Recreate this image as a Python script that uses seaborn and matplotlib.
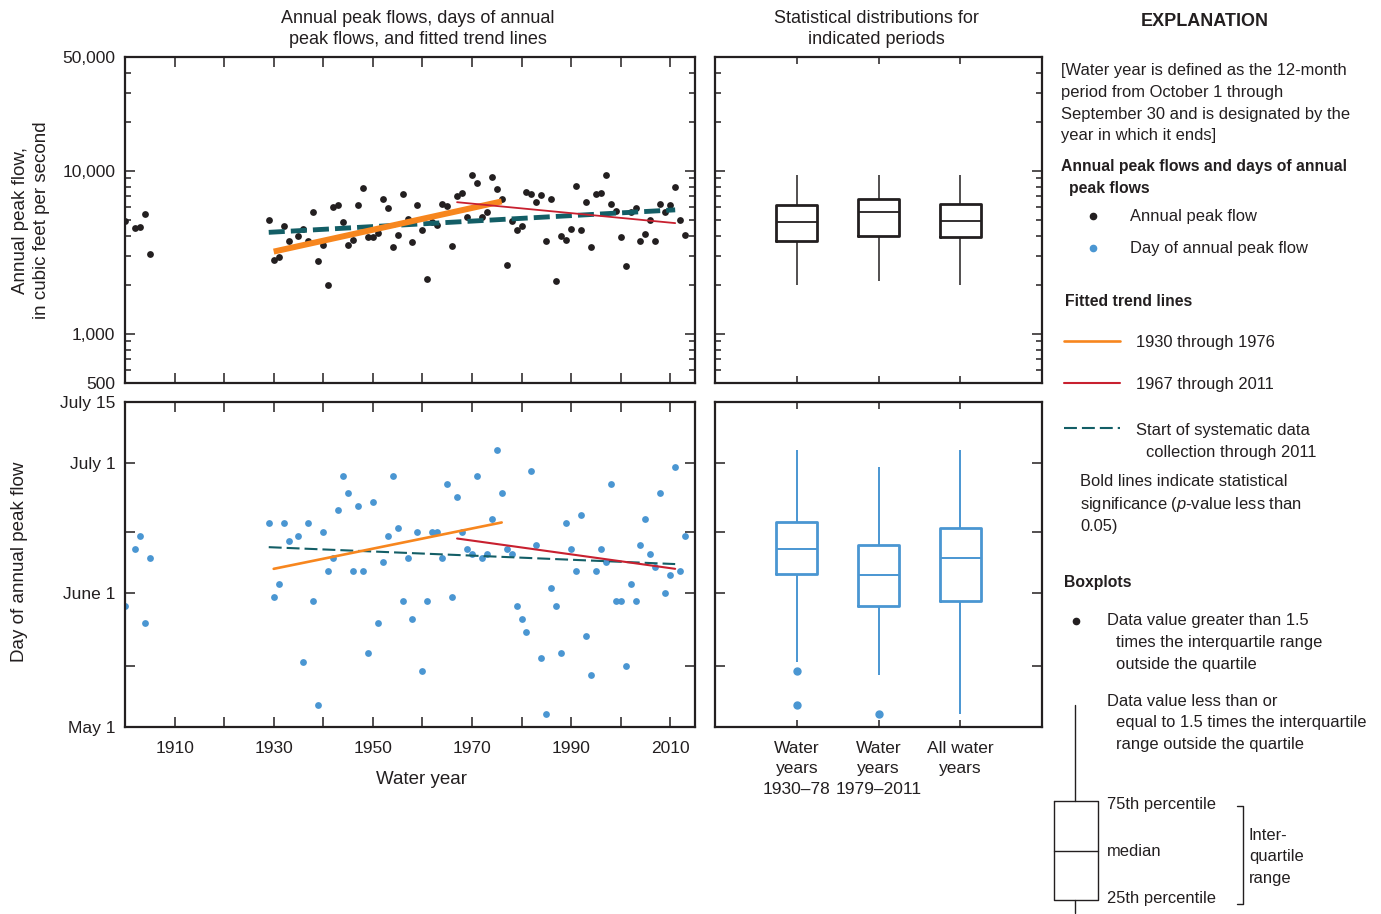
import numpy as np
import pandas as pd
import matplotlib
matplotlib.use("Agg")
import matplotlib.pyplot as plt
import matplotlib.ticker as mticker
import seaborn as sns

# water years with a recorded annual peak
years = [1900, 1902, 1903, 1904, 1905, 1929, 1930, 1931, 1932, 1933,
         1935, 1936, 1937, 1938, 1939, 1940, 1941, 1942, 1943, 1944,
         1945, 1946, 1947, 1948, 1949, 1950, 1951, 1952, 1953, 1954,
         1955, 1956, 1957, 1958, 1959, 1960, 1961, 1962, 1963, 1964,
         1965, 1966, 1967, 1968, 1969, 1970, 1971, 1972, 1973, 1974,
         1975, 1976, 1977, 1978, 1979, 1980, 1981, 1982, 1983, 1984,
         1985, 1986, 1987, 1988, 1989, 1990, 1991, 1992, 1993, 1994,
         1995, 1996, 1997, 1998, 1999, 2000, 2001, 2002, 2003, 2004,
         2005, 2006, 2007, 2008, 2009, 2010, 2011, 2012, 2013]

# annual peak flow, cubic feet per second
peak_flow = [4900, 4460, 4520, 5430, 3100, 4990, 2830, 2985, 4600, 3710,
             4000, 4385, 3695, 5610, 2800, 3505, 2000, 5970, 6190, 4830,
             3520, 3750, 6180, 7890, 3915, 3955, 4145, 6680, 5935, 3395,
             4055, 7220, 5045, 3645, 6140, 4335, 2165, 4830, 4650, 6310,
             6105, 3475, 6970, 7300, 5230, 9410, 8490, 5185, 5565, 9190,
             7800, 6740, 2635, 4955, 4320, 4575, 7410, 7200, 6435, 7070,
             3725, 6740, 2110, 4000, 3765, 4380, 8140, 4335, 6435, 3425,
             7230, 7330, 9410, 6280, 5640, 3945, 2620, 5585, 5885, 3725,
             4080, 5010, 3725, 6310, 5585, 6140, 8020, 5010, 4020]

# day of annual peak flow, day of calendar year (May 1 = 121)
peak_day = [149, 162, 165, 145, 160, 168, 151, 154, 168, 164,
            165, 136, 168, 150, 126, 166, 157, 160, 171, 179,
            175, 157, 172, 157, 138, 173, 145, 159, 165, 179,
            167, 150, 160, 146, 166, 134, 150, 166, 166, 160,
            177, 151, 174, 166, 162, 161, 179, 160, 161, 169,
            185, 175, 162, 161, 149, 146, 143, 180, 163, 137,
            124, 153, 149, 138, 168, 162, 157, 170, 142, 133,
            157, 162, 159, 177, 150, 150, 135, 154, 150, 163,
            169, 161, 158, 175, 152, 156, 181, 157, 165]

# fitted trend lines (end points)
trend_early_years = [1930, 1976]
trend_early_flow = [3200, 6500]
trend_early_day = [157.5, 168.2]
trend_late_years = [1967, 2011]
trend_late_flow = [6430, 4785]
trend_late_day = [164.5, 157.5]
trend_sys_years = [1929, 2011]
trend_sys_flow = [4200, 5770]
trend_sys_day = [162.5, 158.6]

period_order = ["1930-78", "1979-2011", "all"]
period_labels = ["Water\nyears\n1930\u201378", "Water\nyears\n1979\u20132011", "All water\nyears"]

flow_ticks = [500, 1000, 10000, 50000]
flow_ticklabels = ["500", "1,000", "10,000", "50,000"]
flow_minor = [600, 700, 800, 900, 2000, 3000, 4000, 5000, 6000, 7000, 8000, 9000,
              20000, 30000, 40000]
day_ticks = [121, 135, 152, 166, 182, 196]
day_ticklabels = ["May 1", "", "June 1", "", "July 1", "July 15"]
decade_ticks = list(range(1910, 2011, 10))

INK = "#231f20"
BLUE = "#4a96d2"
ORANGE = "#f7861e"
RED = "#c8202f"
TEAL = "#135e66"

sns.set_theme(style="ticks")
plt.rcParams["font.family"] = ["Liberation Sans", "DejaVu Sans"]
plt.rcParams["mathtext.fontset"] = "custom"
plt.rcParams["mathtext.rm"] = "Liberation Sans"
plt.rcParams["mathtext.it"] = "Liberation Sans:italic"
plt.rcParams["text.color"] = INK
plt.rcParams["axes.edgecolor"] = INK
plt.rcParams["xtick.color"] = INK
plt.rcParams["ytick.color"] = INK
FS = 12.5   # ticks / axis titles
FE = 11.9   # explanation text

df = pd.DataFrame({"year": years, "flow": peak_flow, "day": peak_day})
box_df = pd.concat([
    df[(df.year >= 1930) & (df.year <= 1978)].assign(period="1930-78"),
    df[(df.year >= 1979) & (df.year <= 2011)].assign(period="1979-2011"),
    df.assign(period="all"),
])

W, H = 1381, 914
fig = plt.figure(figsize=(W / 100, H / 100), dpi=100)

# overlay for free text (pixel coordinates)
ov = fig.add_axes([0, 0, 1, 1])
ov.set_xlim(0, W)
ov.set_ylim(H, 0)
ov.axis("off")


def px_axes(x0, y0, x1, y1):
    return fig.add_axes([x0 / W, 1 - y1 / H, (x1 - x0) / W, (y1 - y0) / H])


ax_q = px_axes(125, 57, 695, 383)
ax_d = px_axes(125, 402, 695, 727)
ax_qb = px_axes(715, 57, 1042, 383)
ax_db = px_axes(715, 402, 1042, 727)


def style_axes(ax):
    for s in ax.spines.values():
        s.set_linewidth(1.6)
        s.set_color(INK)
    ax.tick_params(which="both", direction="in", top=True, right=True,
                   labelsize=FS, width=1.1)
    ax.tick_params(which="major", length=7)
    ax.tick_params(which="minor", length=4)
    ax.tick_params(axis="y", pad=7)
    ax.tick_params(axis="x", pad=10)
    ax.set_xlabel("")
    ax.set_ylabel("")


def flow_axis(ax, labels):
    ax.set_yscale("log")
    ax.set_ylim(500, 50000)
    ax.yaxis.set_major_locator(mticker.FixedLocator(flow_ticks))
    ax.yaxis.set_minor_locator(mticker.FixedLocator(flow_minor))
    if labels:
        ax.yaxis.set_major_formatter(mticker.FixedFormatter(flow_ticklabels))
    else:
        ax.yaxis.set_major_formatter(mticker.NullFormatter())
    ax.yaxis.set_minor_formatter(mticker.NullFormatter())


def day_axis(ax, labels):
    ax.set_ylim(121, 196)
    ax.set_yticks(day_ticks)
    ax.set_yticklabels(day_ticklabels if labels else [""] * len(day_ticks))
    ax.yaxis.set_minor_locator(mticker.NullLocator())


# ---- annual peak flow scatter
sns.scatterplot(x=years, y=peak_flow, ax=ax_q, color=INK, s=24, linewidth=0, zorder=2)
ax_q.plot(trend_sys_years, trend_sys_flow, color=TEAL, lw=3.5, ls=(0, (3.3, 1.25)), zorder=3)
ax_q.plot(trend_early_years, trend_early_flow, color=ORANGE, lw=4.3, solid_capstyle="butt", zorder=4)
ax_q.plot(trend_late_years, trend_late_flow, color=RED, lw=1.3, zorder=4)
flow_axis(ax_q, True)
ax_q.set_xlim(1900, 2015)
ax_q.set_xticks(decade_ticks)
ax_q.set_xticklabels([])
style_axes(ax_q)

# ---- day of peak scatter
sns.scatterplot(x=years, y=peak_day, ax=ax_d, color=BLUE, s=24, linewidth=0, zorder=2)
ax_d.plot(trend_sys_years, trend_sys_day, color=TEAL, lw=1.5, ls=(0, (6.2, 2.4)), zorder=3)
ax_d.plot(trend_early_years, trend_early_day, color=ORANGE, lw=1.9, zorder=4)
ax_d.plot(trend_late_years, trend_late_day, color=RED, lw=1.5, zorder=4)
day_axis(ax_d, True)
ax_d.set_xlim(1900, 2015)
ax_d.set_xticks(decade_ticks)
ax_d.set_xticklabels([str(y) if (y - 1910) % 20 == 0 else "" for y in decade_ticks])
style_axes(ax_d)

# ---- boxplots (whisker reach tuned so whisker ends match the published figure)
sns.boxplot(data=box_df, x="period", y="flow", order=period_order, ax=ax_qb,
            width=0.5, fill=False, color=INK, log_scale=True, showcaps=False, whis=1.7,
            boxprops=dict(linewidth=2.0), whiskerprops=dict(linewidth=1.1),
            medianprops=dict(linewidth=1.3))
flow_axis(ax_qb, False)
ax_qb.set_xlim(-1, 3)
ax_qb.set_xticks([0, 1, 2])
ax_qb.set_xticklabels([])
style_axes(ax_qb)
ax_qb.tick_params(axis="x", which="major", length=5)

sns.boxplot(data=box_df, x="period", y="day", order=period_order, ax=ax_db,
            width=0.5, fill=False, color=BLUE, showcaps=False, whis=1.7,
            boxprops=dict(linewidth=2.0), whiskerprops=dict(linewidth=1.4),
            medianprops=dict(linewidth=1.4),
            flierprops=dict(marker="o", markerfacecolor=BLUE, markeredgecolor=BLUE,
                            markersize=5))
day_axis(ax_db, False)
ax_db.set_xlim(-1, 3)
ax_db.set_xticks([0, 1, 2])
ax_db.set_xticklabels(period_labels, linespacing=1.45)
style_axes(ax_db)
ax_db.tick_params(axis="x", which="major", length=5, pad=10)

# ---- headings and axis titles
ov.text(418, 29, "Annual peak flows, days of annual\npeak flows, and fitted trend lines",
        ha="center", va="center", fontsize=FS + 0.5, linespacing=1.3)
ov.text(876, 29, "Statistical distributions for\nindicated periods",
        ha="center", va="center", fontsize=FS + 0.5, linespacing=1.3)
ov.text(31, 220, "Annual peak flow,\nin cubic feet per second", rotation=90,
        ha="center", va="center", fontsize=FS + 1, linespacing=1.3)
ov.text(20, 562, "Day of annual peak flow", rotation=90,
        ha="center", va="center", fontsize=FS + 1)
ov.text(422, 779, "Water year", ha="center", va="center", fontsize=FS + 1)
ov.text(137, 92, "C.", ha="left", va="center", fontsize=FS + 1,
        fontweight="bold", fontstyle="italic")
ov.text(162, 92, "Gallatin River at Logan, Montana", ha="left", va="center", fontsize=FS + 1)
ov.text(162, 114, "(station 06052500)", ha="left", va="center", fontsize=FS + 1)


# ---- explanation
def line(x, y, s, **kw):
    kw.setdefault("fontsize", FE)
    ov.text(x, y, s, ha="left", va="center", **kw)


ov.text(1205, 22, "EXPLANATION", ha="center", va="center", fontsize=13,
        fontweight="bold")
for i, s in enumerate(["[Water year is defined as the 12-month",
                       "period from October 1 through",
                       "September 30 and is designated by the",
                       "year in which it ends]"]):
    line(1061, 71 + 21.5 * i, s)
line(1061, 167, "Annual peak flows and days of annual", fontweight="bold", fontsize=11.3)
line(1069, 189, "peak flows", fontweight="bold", fontsize=11.3)
ov.plot([1093], [216], "o", color=INK, ms=4.5)
line(1130, 217, "Annual peak flow")
ov.plot([1093], [248], "o", color=BLUE, ms=4.5)
line(1130, 249, "Day of annual peak flow")

line(1065, 301, "Fitted trend lines", fontweight="bold", fontsize=11.3)
ov.plot([1064, 1120], [341, 341], color=ORANGE, lw=1.9)
line(1136, 343, "1930 through 1976")
ov.plot([1064, 1120], [383, 383], color=RED, lw=1.5)
line(1136, 385, "1967 through 2011")
ov.plot([1064, 1120], [428, 428], color=TEAL, lw=1.5, ls=(0, (6.2, 2.4)))
line(1136, 430, "Start of systematic data")
line(1146, 452, "collection through 2011")
line(1080, 482, "Bold lines indicate statistical")
line(1080, 504, r"significance ($\mathit{p}$-value less than")
line(1080, 526, "0.05)")

line(1064, 582, "Boxplots", fontweight="bold", fontsize=11.3)
ov.plot([1076], [621], "o", color=INK, ms=4.5)
line(1107, 621, "Data value greater than 1.5")
line(1116, 643, "times the interquartile range")
line(1116, 665, "outside the quartile")
line(1107, 701, "Data value less than or")
line(1116, 723, "equal to 1.5 times the interquartile")
line(1116, 745, "range outside the quartile")

ov.plot([1075, 1075], [705, 801], color=INK, lw=1.0)
ov.plot([1075, 1075], [900, 913], color=INK, lw=1.0)
ov.plot([1054, 1098, 1098, 1054, 1054], [801, 801, 900, 900, 801], color=INK, lw=1.0)
ov.plot([1054, 1098], [851, 851], color=INK, lw=1.0)
line(1107, 805, "75th percentile")
line(1107, 851, "median")
line(1107, 899, "25th percentile")
ov.plot([1237, 1243, 1243, 1237], [806, 806, 904, 904], color=INK, lw=1.0)
line(1249, 835, "Inter-")
line(1249, 857, "quartile")
line(1249, 879, "range")

fig.savefig("out.png", dpi=100)
